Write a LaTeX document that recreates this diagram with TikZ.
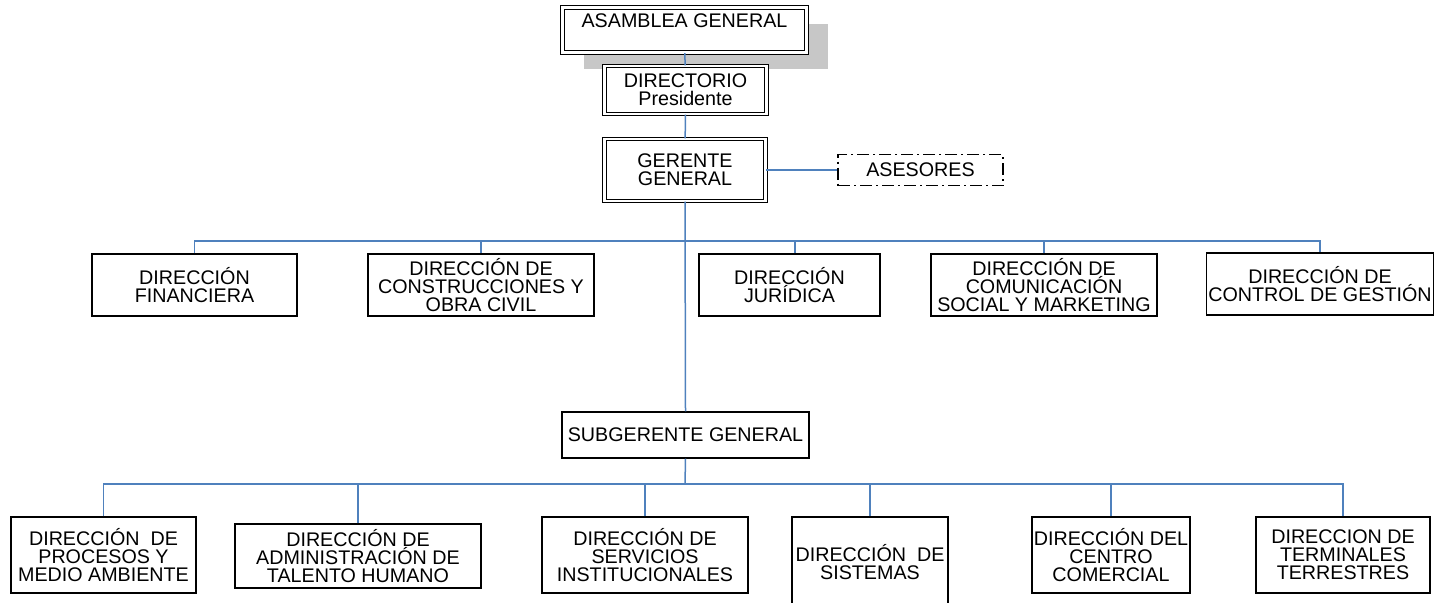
\documentclass[tikz,border=0pt]{standalone}
\usepackage{fontspec}
\setmainfont{Liberation Sans}
\usetikzlibrary{shadows}
\definecolor{linkblue}{RGB}{79,129,189}
\tikzset{
  box/.style={draw, line width=0.7pt, fill=white, align=center, inner sep=1pt, font=\fontsize{9.85}{9}\selectfont},
  dbox/.style={box, double, line width=0.55pt, double distance=1.2pt},
  dashdotbox/.style={box, line width=0.6pt, dash pattern=on 6pt off 2pt on 1pt off 2pt},
  link/.style={draw=linkblue, line width=0.75pt},
}
\begin{document}
\begin{tikzpicture}[x=0.5pt, y=-0.5pt]
\clip (0,0) rectangle (1435,602);

% top of the chart
\node[dbox, minimum width=122pt, minimum height=22.5pt,
  drop shadow={shadow xshift=10.75pt, shadow yshift=-8pt, fill=black!22, opacity=1}]
  (asam) at (684.5,30) {ASAMBLEA GENERAL\\ ~};
\node[dbox, minimum width=81pt, minimum height=24pt] (dir) at (685.5,90) {DIRECTORIO\\Presidente};
\node[dbox, minimum width=80.5pt, minimum height=31pt] (ger) at (685,170) {GERENTE\\GENERAL};
\node[dashdotbox, minimum width=82.5pt, minimum height=15.5pt] (ases) at (920.5,170) {ASESORES};

% first level
\node[box, minimum width=102.5pt, minimum height=31pt] (fin) at (194.5,285) {DIRECCIÓN\\FINANCIERA};
\node[box, minimum width=113pt, minimum height=31pt] (cons) at (481,285) {DIRECCIÓN DE\\CONSTRUCCIONES Y\\OBRA CIVIL};
\node[box, minimum width=90.5pt, minimum height=31pt] (jur) at (789.5,285) {DIRECCIÓN\\JURÍDICA};
\node[box, minimum width=113pt, minimum height=31pt] (com) at (1044,285) {DIRECCIÓN DE\\COMUNICACIÓN\\SOCIAL Y MARKETING};
\node[box, minimum width=113pt, minimum height=31pt] (ctl) at (1320,284) {DIRECCIÓN DE\\CONTROL DE GESTIÓN};

\node[box, minimum width=123.5pt, minimum height=23pt] (sub) at (685.5,435) {SUBGERENTE GENERAL};

% second level
\node[box, minimum width=92.5pt, minimum height=38pt] (proc) at (103.5,555) {DIRECCIÓN\ \ DE\\PROCESOS Y\\MEDIO AMBIENTE};
\node[box, minimum width=123pt, minimum height=32pt] (tal) at (358,556) {DIRECCIÓN DE\\ADMINISTRACIÓN DE\\TALENTO HUMANO};
\node[box, minimum width=103pt, minimum height=38pt] (serv) at (645,555) {DIRECCIÓN DE\\SERVICIOS\\INSTITUCIONALES};
\node[box, minimum width=78pt, minimum height=45pt] (sist) at (870,562) {DIRECCIÓN\ \ DE\\SISTEMAS};
\node[box, minimum width=79pt, minimum height=38pt] (cen) at (1111,555) {DIRECCIÓN DEL\\CENTRO\\COMERCIAL};
\node[box, minimum width=87pt, minimum height=38pt] (term) at (1343,555) {DIRECCION DE\\TERMINALES\\TERRESTRES};

\coordinate (b1) at (685,241);
\coordinate (b2) at (685,484);

% connectors
\draw[link] (asam) -- (dir);
\draw[link] (dir) -- (ger);
\draw[link] (ger.east) -- (ases.west);
\draw[link] (ger.south) -- (sub.north);
\draw[link] (fin.north) |- (b1) -| (ctl.north);
\foreach \n in {cons,com}{
    \draw[link] (\n.north) -- (\n.north |- b1);
}
\draw[link] ([xshift=2.75pt]jur.north) -- ([xshift=2.75pt]jur.north |- b1);
\draw[link] (sub.south) -- (b2);
\draw[link] (proc.north) |- (b2) -| (term.north);
\foreach \n in {tal,serv,sist,cen}{
    \draw[link] (\n.north) -- (\n.north |- b2);
}

\end{tikzpicture}
\end{document}
